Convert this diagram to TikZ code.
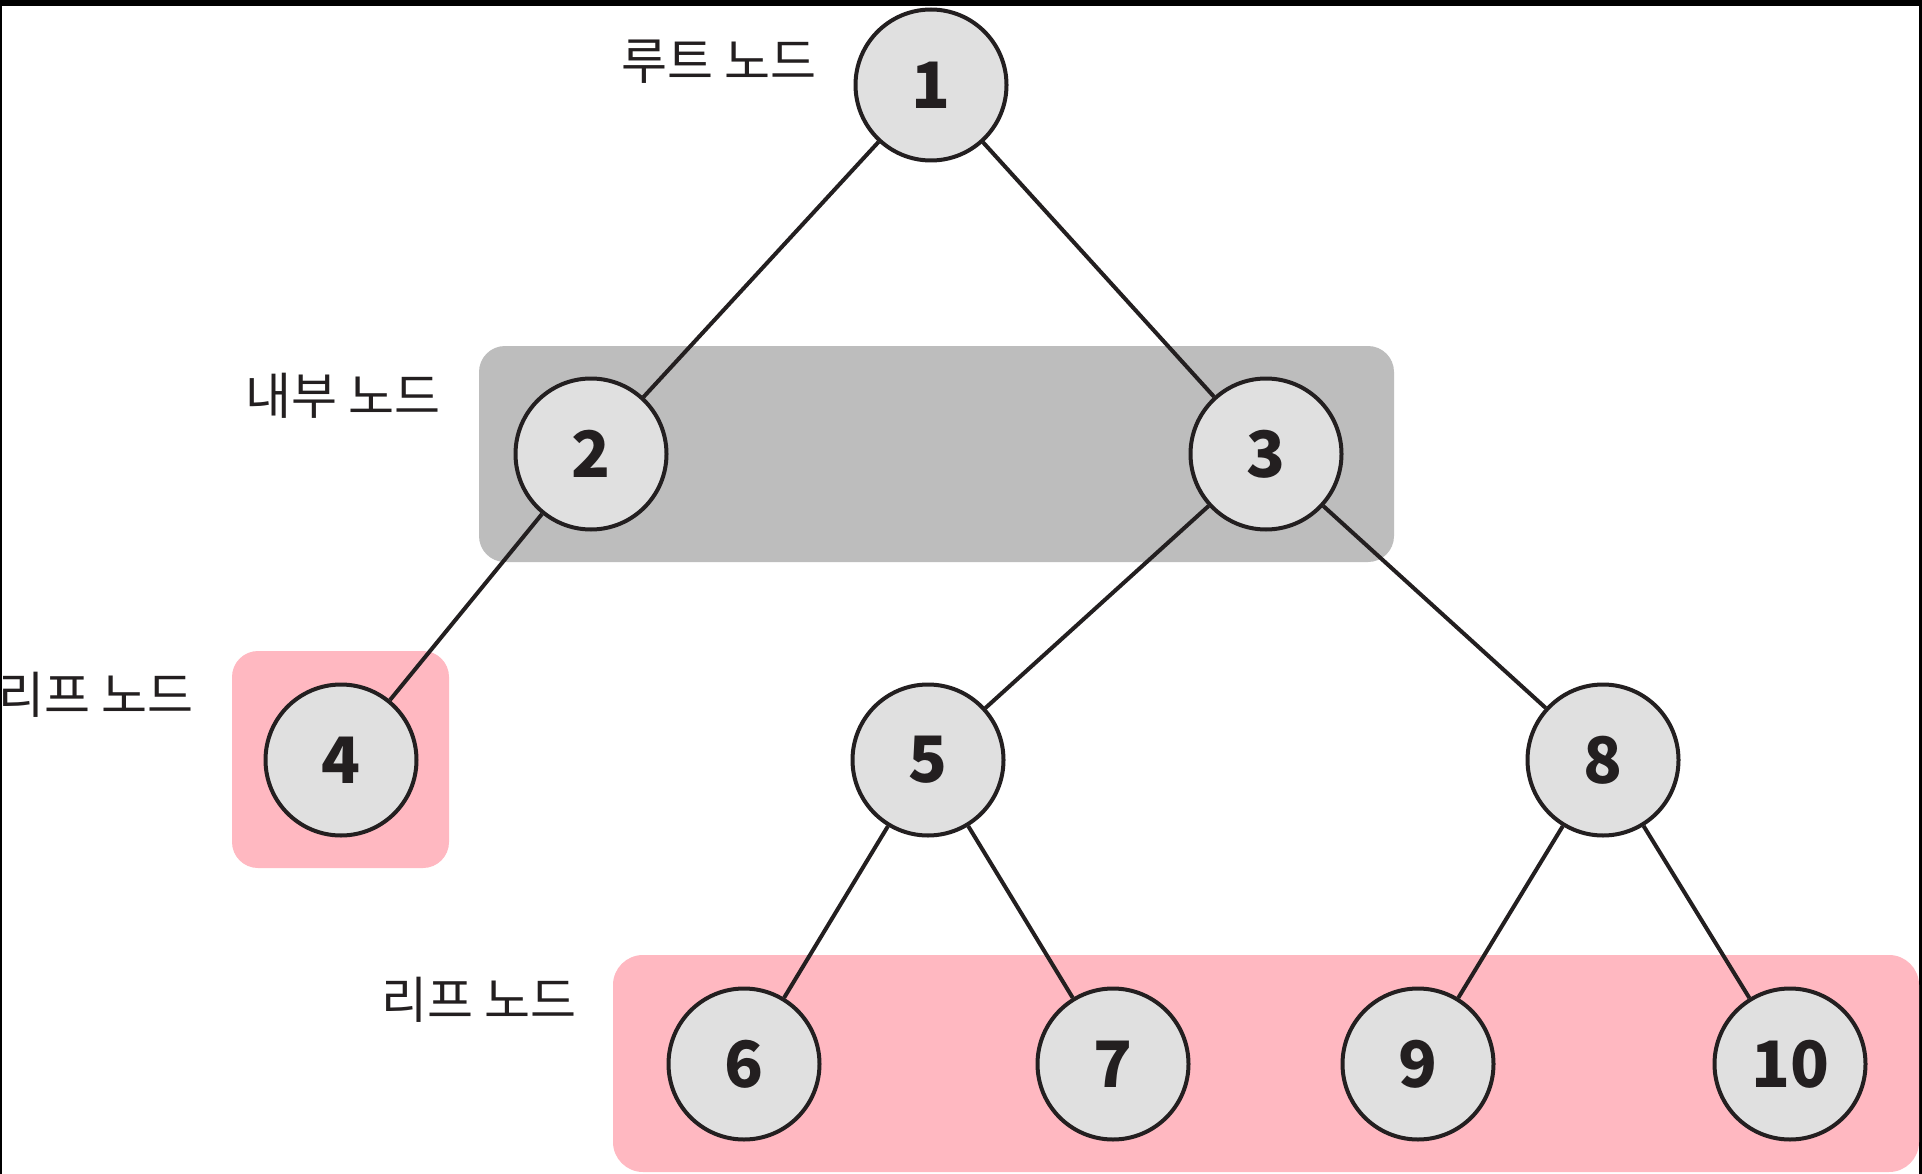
\documentclass[tikz,border=0pt]{standalone}
\usepackage{fontspec}
\newfontfamily\kr{Noto Sans CJK KR}
\definecolor{ink}{HTML}{231F20}
\definecolor{nodefill}{HTML}{E0E0E0}
\definecolor{grayband}{HTML}{BDBDBD}
\definecolor{pinkband}{HTML}{FFB8C1}
\begin{document}
\begin{tikzpicture}[x=1pt,y=-1pt,
  treenode/.style={circle,draw=ink,fill=nodefill,line width=4pt,minimum size=151pt,inner sep=0pt,
    font=\kr\bfseries\fontsize{64}{64}\selectfont,text=ink},
  edge/.style={draw=ink,line width=4pt},
  lbl/.style={font=\kr\fontsize{50}{50}\selectfont,text=ink,inner sep=0pt},
  band/.style={rounded corners=26pt}]
\useasboundingbox (0,0) rectangle (1922,1174);
\fill[white] (0,0) rectangle (1922,1174);
% screenshot frame
\fill[black] (0,0) rectangle (1922,6);
\fill[black] (0,0) rectangle (2,1174);
\fill[black] (1919,0) rectangle (1922,1174);
% bands
\fill[grayband,band] (479,346) rectangle (1394,562);
\fill[pinkband,band] (232,651) rectangle (449,868);
\fill[pinkband,rounded corners=30pt] (613,955) rectangle (1919,1172);
% nodes
\node[treenode] (n1) at (931,85) {1};
\node[treenode] (n2) at (591,454) {2};
\node[treenode] (n3) at (1266,454) {3};
\node[treenode] (n4) at (341,760) {4};
\node[treenode] (n5) at (928,760) {5};
\node[treenode] (n8) at (1603,760) {8};
\node[treenode] (n6) at (744,1064) {6};
\node[treenode] (n7) at (1113,1064) {7};
\node[treenode] (n9) at (1418,1064) {9};
\node[treenode] (n10) at (1790,1064) {10};
% edges
\draw[edge] (n1) -- (n2);
\draw[edge] (n1) -- (n3);
\draw[edge] (n2) -- (n4);
\draw[edge] (n3) -- (n5);
\draw[edge] (n3) -- (n8);
\draw[edge] (n5) -- (n6);
\draw[edge] (n5) -- (n7);
\draw[edge] (n8) -- (n9);
\draw[edge] (n8) -- (n10);
% labels
\node[lbl] (l1) at (719,62) {루트 노드};
\node[lbl] (l2) at (343,396) {내부 노드};
\node[lbl] (l3) at (96,695) {리프 노드};
\node[lbl] (l4) at (479,1000) {리프 노드};
\end{tikzpicture}
\end{document}
